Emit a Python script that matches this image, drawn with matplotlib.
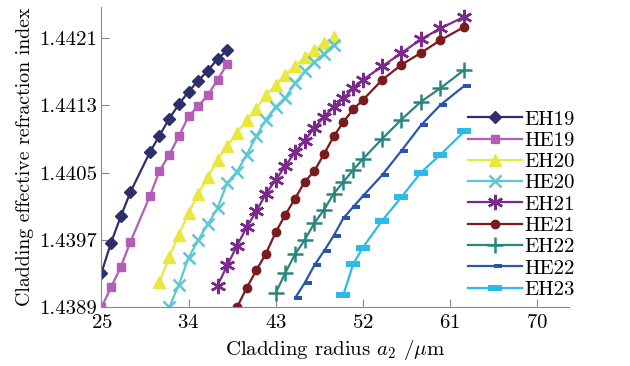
import matplotlib
matplotlib.use("Agg")
import matplotlib.pyplot as plt
from matplotlib.path import Path

# 字体设置: 衬线字体, 类似 LaTeX
plt.rcParams["font.family"] = ["cmr10", "DejaVu Serif"]
plt.rcParams["mathtext.fontset"] = "cm"
plt.rcParams["axes.formatter.use_mathtext"] = True
plt.rcParams["font.size"] = 15

# 数据^^^^^^^^^^^^^^^^^^^^^^^^^^^^^^^^^^^^^^^^^^^^^^^^^^^^
x_eh19 = [25, 26, 27, 28, 30, 31, 32, 33, 34, 35, 36, 37, 38]
y_eh19 = [1.43931, 1.43967, 1.43998, 1.44027, 1.44074, 1.44094, 1.44114,
          1.44131, 1.44146, 1.44159, 1.44171, 1.44185, 1.44195]

x_he19 = [25, 26, 27, 28, 30, 31, 32, 33, 34, 35, 36, 37, 38]
y_he19 = [1.43890, 1.43914, 1.43938, 1.43968, 1.44022, 1.44052, 1.44071,
          1.44093, 1.44117, 1.44129, 1.44142, 1.44160, 1.44179]

x_eh20 = [31, 32, 33, 34, 35, 36, 37, 38, 39, 40, 41, 42, 43, 44, 45, 46, 47, 48, 49]
y_eh20 = [1.43920, 1.43950, 1.43976, 1.44002, 1.44025, 1.44045, 1.44065,
          1.44082, 1.44097, 1.44112, 1.44126, 1.44142, 1.44154, 1.44166,
          1.44176, 1.44187, 1.44195, 1.44204, 1.44211]

x_he20 = [32, 33, 34, 35, 36, 37, 38, 39, 40, 41, 42, 43, 44, 45, 46, 47, 48, 49]
y_he20 = [1.43890, 1.43917, 1.43949, 1.43970, 1.43989, 1.44008, 1.44038,
          1.44051, 1.44071, 1.44093, 1.44113, 1.44128, 1.44139, 1.44156,
          1.44170, 1.44181, 1.44191, 1.44202]

x_eh21 = [37, 38, 39, 40, 41, 42, 43, 44, 45, 46, 47, 48, 49, 50, 51, 52,
          54, 56, 58, 60, 62.5]
y_eh21 = [1.43916, 1.43940, 1.43963, 1.43985, 1.44004, 1.44025, 1.44041,
          1.44058, 1.44074, 1.44088, 1.44103, 1.44116, 1.44128, 1.44138,
          1.44150, 1.44160, 1.44176, 1.44192, 1.44208, 1.44221, 1.44235]

x_he21 = [39, 40, 41, 42, 43, 44, 45, 46, 47, 48, 49, 50, 51, 52,
          54, 56, 58, 60, 62.5]
y_he21 = [1.43890, 1.43913, 1.43934, 1.43954, 1.43979, 1.44000, 1.44019,
          1.44039, 1.44052, 1.44072, 1.44093, 1.44110, 1.44125, 1.44136,
          1.44160, 1.44178, 1.44192, 1.44207, 1.44223]

x_eh22 = [43, 44, 45, 46, 47, 48, 49, 50, 51, 52, 54, 56, 58, 60, 62.5]
y_eh22 = [1.43907, 1.43931, 1.43953, 1.43970, 1.43990, 1.44006, 1.44025,
          1.44039, 1.44053, 1.44066, 1.44090, 1.44113, 1.44134, 1.44150,
          1.44172]

x_he22 = [45, 46, 47, 48, 49, 50, 51, 52, 54, 56, 58, 60, 62.5]
y_he22 = [1.43901, 1.43919, 1.43940, 1.43957, 1.43975, 1.43996, 1.44009,
          1.44022, 1.44047, 1.44076, 1.44106, 1.44130, 1.44153]

x_eh23 = [50, 51, 52, 54, 56, 58, 60, 62.5]
y_eh23 = [1.43905, 1.43941, 1.43961, 1.43993, 1.44021, 1.44050, 1.44071, 1.44099]

labels = ["EH19", "HE19", "EH20", "HE20", "EH21", "HE21", "EH22", "HE22", "EH23"]
x_ticks = [25, 34, 43, 52, 61, 70]
y_ticks = [1.4389, 1.4397, 1.4405, 1.4413, 1.4421]

# 自定义短横标记
bar_small = Path([(-1, -2), (7, -2), (7, 2), (-1, 2), (-1, -2)],
                 [Path.MOVETO, Path.LINETO, Path.LINETO, Path.LINETO, Path.CLOSEPOLY])
bar_big = Path([(-6.5, -2.5), (6.5, -2.5), (6.5, 2.5), (-6.5, 2.5), (-6.5, -2.5)],
               [Path.MOVETO, Path.LINETO, Path.LINETO, Path.LINETO, Path.CLOSEPOLY])

fig = plt.figure(figsize=(6.3, 3.66), dpi=100)
ax = fig.add_axes([0.161, 0.160, 0.742, 0.822])

lw = 1.6
ax.plot(x_eh19, y_eh19, color="#2c2f6a", lw=lw, marker="D", ms=6, label=labels[0])
ax.plot(x_he19, y_he19, color="#b35db9", lw=lw, marker="s", ms=6, label=labels[1])
ax.plot(x_eh20, y_eh20, color="#e9e83c", lw=lw, marker="^", ms=8, label=labels[2])
ax.plot(x_he20, y_he20, color="#5cc8d4", lw=lw, marker="x", ms=8, mew=1.8, label=labels[3])
ax.plot(x_eh21, y_eh21, color="#7a2a8a", lw=lw, marker=(6, 2, 0), ms=11, mew=1.8, label=labels[4])
ax.plot(x_he21, y_he21, color="#7a1b1e", lw=lw, marker="o", ms=6, label=labels[5])
ax.plot(x_eh22, y_eh22, color="#2a8580", lw=lw, marker="+", ms=11, mew=1.8, label=labels[6])
ax.plot(x_he22, y_he22, color="#2a55ad", lw=lw, marker=bar_small, ms=10, mew=0, label=labels[7])
ax.plot(x_eh23, y_eh23, color="#2cbbe6", lw=lw, marker=bar_big, ms=9.4, mew=0, label=labels[8])

# 坐标轴设置
ax.set_xlim(25, 73.3)
ax.set_ylim(1.4389, 1.44247)
ax.set_xticks(x_ticks)
ax.set_yticks(y_ticks)
ax.set_yticklabels(["%.4f" % v for v in y_ticks])
ax.spines["right"].set_color("none")
ax.spines["top"].set_color("none")
ax.spines["left"].set_color("#888888")
ax.spines["bottom"].set_color("#888888")
ax.tick_params(direction="in", length=6, width=0.8, color="#888888")
ax.tick_params(axis="x", pad=5)
ax.tick_params(axis="y", pad=3)

ax.set_xlabel(r"Cladding radius $a_2$ /$\mu$m", labelpad=4)
ax.set_ylabel("Cladding effective refraction index", fontsize=14.3, labelpad=4)

plt.legend(loc="upper left", bbox_to_anchor=(468 / 630, 1 - 110 / 366),
           bbox_transform=fig.transFigure, frameon=False, borderpad=0,
           handlelength=2.6, handletextpad=0.1, labelspacing=0.13,
           borderaxespad=0)

plt.savefig("out.png", dpi=100)
plt.close()
